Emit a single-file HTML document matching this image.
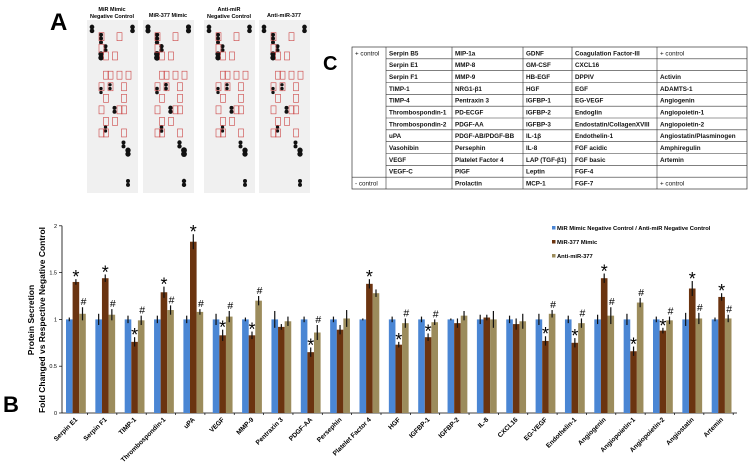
<!DOCTYPE html>
<html><head><meta charset="utf-8"><style>
body{margin:0;background:#fff;width:750px;height:468px;overflow:hidden;font-family:"Liberation Sans",sans-serif}
svg{position:absolute;left:0;top:0}
</style></head><body>
<svg id="s" width="750" height="468"></svg>
<script>
const categories=["Serpin E1","Serpin F1","TIMP-1","Thrombospondin-1","uPA","VEGF","MMP-9","Pentraxin 3","PDGF-AA","Persephin","Platelet Factor 4","HGF","IGFBP-1","IGFBP-2","IL-8","CXCL16","EG-VEGF","Endothelin-1","Angiogenin","Angiopoietin-1","Angiopoietin-2","Angiostatin","Artemin"];
const controlVals=[1,1,1,1,1,1,1,1,1,1,1,1,1,1,1,1,1,1,1,1,1,1,1];
const mimicVals=[1.40,1.44,0.76,1.29,1.83,0.83,0.83,0.92,0.65,0.89,1.38,0.73,0.81,0.96,1.02,0.95,0.77,0.75,1.44,0.66,0.88,1.33,1.24];
const antiVals=[1.06,1.05,0.99,1.10,1.08,1.03,1.20,0.98,0.86,1.01,1.28,0.96,0.97,1.04,1.00,0.98,1.06,0.96,1.04,1.18,0.99,1.01,1.01];
const controlErr=[0.02,0.06,0.04,0.04,0.04,0.06,0.02,0.09,0.03,0.03,0.01,0.03,0.03,0.01,0.05,0.04,0.06,0.04,0.05,0.06,0.03,0.07,0.02];
const mimicErr=[0.03,0.04,0.05,0.06,0.08,0.06,0.04,0.03,0.05,0.05,0.05,0.03,0.04,0.05,0.03,0.06,0.05,0.05,0.05,0.05,0.03,0.08,0.04];
const antiErr=[0.07,0.06,0.05,0.05,0.03,0.06,0.05,0.05,0.08,0.09,0.04,0.05,0.03,0.05,0.09,0.08,0.04,0.05,0.09,0.05,0.04,0.06,0.04];
const mimicSig=[1,1,1,1,1,1,1,0,1,0,1,1,1,0,0,0,1,1,1,1,1,1,1];
const antiSig=[1,1,1,1,1,1,1,0,1,0,0,1,1,0,0,0,1,1,1,1,1,1,1];
const yTicks=[0,0.5,1,1.5,2];
const yTickLabels=["0","0.5","1","1.5","2"];
const seriesNames=["MiR Mimic Negative Control / Anti-miR  Negative Control","MiR-377 Mimic","Anti-miR-377"];
const colors=["#4a86d4","#6b3410","#9c8c5c"];
const NS="http://www.w3.org/2000/svg";const s=document.getElementById('s');
function el(t,a,txt,p){const e=document.createElementNS(NS,t);for(const k in a)e.setAttribute(k,a[k]);if(txt!=null)e.textContent=txt;(p||s).appendChild(e);return e;}
const y0=413,yU=93.6;function Y(v){return y0-v*yU;}
function X(i){return 66+i*29.35;}
// Panel A
let t=el('text',{x:50,y:30,'font-size':24,'font-weight':'bold'},'A');
const blotX=[87,143,204,259];const blotTitles=[["MiR Mimic","Negative Control"],["MiR-377 Mimic"],["Anti-miR","Negative Control"],["Anti-miR-377"]];
const dots=[[0,0,7],[0,1,7],[9,0,7],[9,1,7],[2,2,6],[2,3,6],[2,4,6],[3,5,6],[3,6,6],[2,7,8],[2,8,8],[2,16,5],[2,17,5],[4,15,5],[4,16,5],[5,21,6],[5,22,6],[3,26,5],[3,27,5],[7,30,6],[7,31,6],[8,32,8],[8,33,8],[8,40,6],[8,41,6]];
blotX.forEach((bx,b)=>{
 const g=el('g',{});
 el('rect',{x:bx,y:20,width:51,height:173,fill:'#f0f0f0'},null,g);
 const tt=blotTitles[b];tt.forEach((ln,k)=>el('text',{x:bx+25,y:tt.length==2?11+k*7:17,'font-size':5.5,'font-weight':'bold','text-anchor':'middle'},ln,g));
 dots.forEach(d=>{el('circle',{cx:bx+5+d[0]*4.5,cy:27+d[1]*3.85,r:(d[2]/3)*(b==1?1.1:1),fill:'#111'},null,g);});
 [[2,2,2],[6,2,2],[2,5,2],[3,7,2],[5,7,2],[3,12,2],[4,12,2],[6,12,2],[8,12,2],[2,15,2],[4,15,2],[7,15,2],[3,18,2],[7,18,2],[2,21,2],[6,21,2],[7,21,2],[3,24,2],[5,24,2],[2,27,2],[3,27,2],[7,27,2]].forEach(r=>el('rect',{x:bx+3+r[0]*4.5,y:25+r[1]*3.85,width:5,height:8,fill:'none',stroke:'#c44','stroke-width':0.6},null,g));
});
// Panel C table
t=el('text',{x:323,y:70,'font-size':20,'font-weight':'bold'},'C');
const rows=[["+ control","Serpin B5","MIP-1a","GDNF","Coagulation  Factor-III","+ control"],["","Serpin E1","MMP-8","GM-CSF","CXCL16",""],["","Serpin F1","MMP-9","HB-EGF","DPPIV","Activin"],["","TIMP-1","NRG1-β1","HGF","EGF","ADAMTS-1"],["","TIMP-4","Pentraxin 3","IGFBP-1","EG-VEGF","Angiogenin"],["","Thrombospondin-1","PD-ECGF","IGFBP-2","Endoglin","Angiopoietin-1"],["","Thrombospondin-2","PDGF-AA","IGFBP-3","Endostatin/CollagenXVIII","Angiopoietin-2"],["","uPA","PDGF-AB/PDGF-BB","IL-1β","Endothelin-1","Angiostatin/Plasminogen"],["","Vasohibin","Persephin","IL-8","FGF acidic","Amphiregulin"],["","VEGF","Platelet Factor 4","LAP (TGF-β1)","FGF basic","Artemin"],["","VEGF-C","PlGF","Leptin","FGF-4",""],["- control","","Prolactin","MCP-1","FGF-7","+ control"]];
const cx=[352,386,452,523,572,657,747];const ty0=47,rh=(189-47)/12;
const tg=el('g',{});
el('rect',{x:352,y:ty0,width:395,height:142,fill:'none',stroke:'#333','stroke-width':0.7},null,tg);
cx.slice(1,6).forEach(x=>el('line',{x1:x,y1:ty0,x2:x,y2:189,stroke:'#333','stroke-width':0.6},null,tg));
for(let r=1;r<12;r++){const yy=ty0+r*rh;el('line',{x1:r==11?352:386,y1:yy,x2:747,y2:yy,stroke:'#333','stroke-width':0.6},null,tg);}
rows.forEach((row,r)=>row.forEach((c,k)=>{if(c)el('text',{x:cx[k]+3,y:ty0+r*rh+8.3,'font-size':6.3,'font-weight':k==0||k==5&&c.includes('control')?'normal':'bold',fill:'#111'},c,tg);}));
// Panel B
t=el('text',{x:3,y:412,'font-size':22,'font-weight':'bold'},'B');
const yt=el('text',{transform:'translate(34,320) rotate(-90)','font-size':8.5,'font-weight':'bold','text-anchor':'middle'});
el('tspan',{x:0,dy:0},'Protein Secretion',yt);el('tspan',{x:0,dy:11},'Fold Changed vs  Respective  Negative Control',yt);
el('line',{x1:62,y1:Y(2),x2:62,y2:y0,stroke:'#000','stroke-width':0.8});
el('line',{x1:62,y1:y0,x2:737,y2:y0,stroke:'#000','stroke-width':0.8});
yTicks.forEach((v,i)=>{el('line',{x1:59,y1:Y(v),x2:62,y2:Y(v),stroke:'#000','stroke-width':0.7});el('text',{x:57,y:Y(v)+2,'font-size':5.5,'text-anchor':'end'},yTickLabels[i]);});
const series=[controlVals,mimicVals,antiVals],errs=[controlErr,mimicErr,antiErr];const bw=6.6;
categories.forEach((c,i)=>{
 el('line',{x1:X(i)+21.5,y1:y0,x2:X(i)+21.5,y2:y0+2,stroke:'#000','stroke-width':0.7});
 series.forEach((sv,k)=>{const x=X(i)+k*bw,v=sv[i];
  const r=el('rect',{x:x,y:Y(v),width:bw,height:v*yU,fill:colors[k]});
  
  
  const e=errs[k][i];el('line',{x1:x+bw/2,y1:Y(v+e),x2:x+bw/2,y2:Y(v-e),stroke:'#111','stroke-width':1.2});
 });
 if(mimicSig[i]){el('text',{x:X(i)+bw*1.5,y:Y(mimicVals[i]+mimicErr[i])+4,'font-size':18,'text-anchor':'middle'},'*');}
 if(antiSig[i])el('text',{x:X(i)+bw*2.5+1,y:Y(antiVals[i]+antiErr[i])-2,'font-size':10.5,'text-anchor':'middle'},'#');
 const lb=el('text',{transform:`translate(${X(i)+bw*1.5+2},${y0+7}) rotate(-45)`,'font-size':6.6,'font-weight':'bold','text-anchor':'end'},c);
 
});
seriesNames.forEach((n,k)=>{const g=el('g',{});
 el('rect',{x:552,y:226+k*14,width:3.5,height:3.5,fill:colors[k]},null,g);
 el('text',{x:557,y:230+k*14,'font-size':5.8,'font-weight':'bold'},n,g);});
</script>
</body></html>
